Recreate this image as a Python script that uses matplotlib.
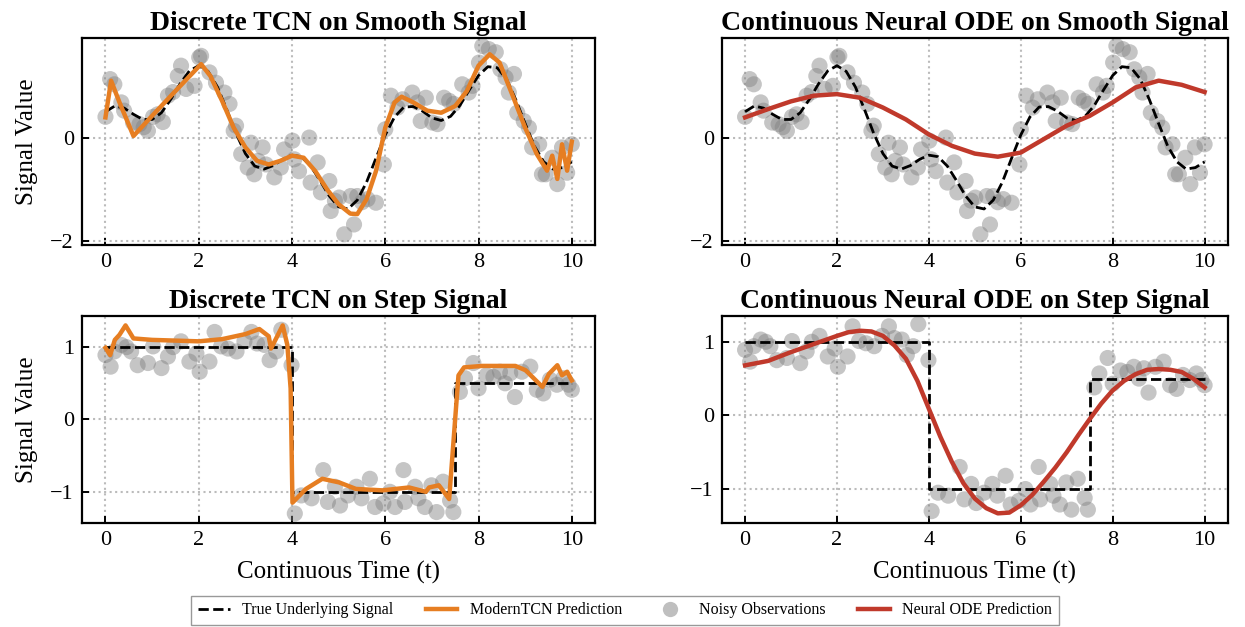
import matplotlib
matplotlib.use("Agg")
import matplotlib.pyplot as plt
from matplotlib.lines import Line2D

plt.rcParams['font.family'] = ['Liberation Serif', 'DejaVu Serif']
plt.rcParams['mathtext.fontset'] = 'stix'

# --- smooth signal (true curve) ---
t_true = [0.0, 0.2, 0.4, 0.6, 0.8, 1.0, 1.2, 1.4, 1.6, 1.8, 2.0, 2.2, 2.4, 2.6, 2.8,
          3.0, 3.2, 3.4, 3.6, 3.8, 4.0, 4.2, 4.4, 4.6, 4.8, 5.0, 5.2, 5.4, 5.6, 5.8,
          6.0, 6.2, 6.4, 6.6, 6.8, 7.0, 7.2, 7.4, 7.6, 7.8, 8.0, 8.2, 8.4, 8.6, 8.8,
          9.0, 9.2, 9.4, 9.6, 9.8, 10.0]
smooth_true = [0.50, 0.61, 0.57, 0.45, 0.35, 0.35, 0.48, 0.74, 1.04, 1.29, 1.39, 1.28, 0.98,
               0.54, 0.08, -0.31, -0.55, -0.61, -0.54, -0.42, -0.34, -0.37, -0.55, -0.83,
               -1.13, -1.34, -1.38, -1.21, -0.86, -0.40, 0.05, 0.40, 0.59, 0.60, 0.51, 0.38,
               0.33, 0.41, 0.62, 0.92, 1.20, 1.37, 1.35, 1.13, 0.73, 0.27, -0.17, -0.47,
               -0.61, -0.58, -0.47]

# --- smooth signal noisy observations ---
t_obs_smooth = [0.00, 0.10, 0.19, 0.34, 0.40, 0.59, 0.73, 0.82, 0.91, 1.02, 1.12, 1.23, 1.34,
                1.45, 1.55, 1.62, 1.73, 1.91, 2.01, 2.05, 2.23, 2.37, 2.55, 2.66, 2.75, 2.80,
                2.91, 3.05, 3.12, 3.19, 3.27, 3.37, 3.44, 3.62, 3.76, 3.83, 4.01, 4.05, 4.15,
                4.37, 4.40, 4.55, 4.62, 4.80, 4.83, 4.92, 5.01, 5.12, 5.26, 5.33, 5.40, 5.50,
                5.62, 5.80, 5.97, 6.00, 6.12, 6.26, 6.37, 6.58, 6.69, 6.76, 6.87, 7.01, 7.12,
                7.26, 7.37, 7.47, 7.65, 7.79, 7.87, 8.01, 8.08, 8.22, 8.37, 8.47, 8.58, 8.65,
                8.76, 8.83, 8.97, 9.08, 9.15, 9.30, 9.36, 9.44, 9.58, 9.69, 9.79, 9.90, 10.00]
y_obs_smooth = [0.40, 1.13, 1.03, 0.68, 0.52, 0.29, 0.26, 0.20, 0.13, 0.40, 0.45, 0.30, 0.81,
                0.88, 1.19, 1.39, 0.94, 1.00, 1.55, 1.58, 1.26, 1.06, 0.87, 0.65, 0.13, 0.23,
                -0.32, -0.58, -0.10, -0.71, -0.45, -0.19, -0.52, -0.77, -0.58, -0.23, -0.06,
                -0.42, -0.65, 0.00, -0.87, -0.48, -1.06, -0.84, -1.42, -1.22, -1.16, -1.87,
                -1.13, -1.68, -1.13, -1.25, -1.19, -1.26, -0.52, 0.16, 0.81, 0.58, 0.74, 0.87,
                0.68, 0.32, 0.77, 0.29, 0.26, 0.77, 0.71, 0.65, 1.03, 0.87, 1.00, 1.45, 1.77,
                1.71, 1.65, 1.32, 1.16, 0.87, 1.23, 0.48, 0.32, 0.19, -0.19, -0.13, -0.71,
                -0.71, -0.39, -0.90, -0.19, -0.68, -0.13]

# --- TCN prediction on smooth signal ---
t_tcn_smooth = [0.0, 0.12, 0.3, 0.6, 1.0, 1.5, 2.05, 2.25, 2.5, 2.75, 3.0, 3.25, 3.5, 3.75,
                4.0, 4.25, 4.5, 4.75, 5.0, 5.25, 5.4, 5.6, 5.8, 6.0, 6.2, 6.35, 6.6, 6.9,
                7.2, 7.5, 7.75, 8.0, 8.24, 8.45, 8.75, 9.0, 9.25, 9.47, 9.58, 9.69, 9.79,
                9.90, 10.0]
y_tcn_smooth = [0.39, 1.10, 0.68, 0.03, 0.42, 0.90, 1.42, 1.19, 0.71, 0.19, -0.19, -0.45,
                -0.52, -0.45, -0.35, -0.39, -0.65, -1.00, -1.29, -1.47, -1.48, -1.19, -0.65,
                0.19, 0.68, 0.79, 0.68, 0.52, 0.48, 0.61, 0.90, 1.39, 1.61, 1.45, 0.77, 0.19,
                -0.32, -0.64, -0.35, -0.80, -0.13, -0.64, -0.08]

# --- ODE prediction on smooth signal ---
t_ode_smooth = [0.0, 0.5, 1.0, 1.5, 2.0, 2.5, 3.0, 3.5, 4.0, 4.5, 5.0, 5.5, 6.0, 6.5, 7.0,
                7.5, 8.0, 8.5, 9.0, 9.5, 10.0]
y_ode_smooth = [0.39, 0.55, 0.70, 0.81, 0.84, 0.77, 0.58, 0.35, 0.06, -0.16, -0.31, -0.37,
                -0.29, -0.03, 0.23, 0.42, 0.68, 0.97, 1.10, 1.02, 0.88]

# --- step signal (true) ---
t_step = [0.0, 4.0, 4.0, 7.5, 7.5, 10.0]
step_true = [1.0, 1.0, -1.0, -1.0, 0.5, 0.5]

# --- step signal noisy observations ---
t_obs_step = [0.00, 0.11, 0.19, 0.34, 0.45, 0.55, 0.69, 0.91, 1.02, 1.20, 1.34, 1.45, 1.62,
              1.80, 1.95, 2.02, 2.23, 2.34, 2.48, 2.63, 2.81, 2.98, 3.13, 3.25, 3.41, 3.52,
              3.66, 3.77, 3.99, 4.06, 4.20, 4.42, 4.67, 4.77, 4.92, 5.03, 5.20, 5.38, 5.49,
              5.67, 5.78, 5.96, 6.10, 6.21, 6.39, 6.42, 6.64, 6.71, 6.85, 6.99, 7.10, 7.24,
              7.39, 7.46, 7.60, 7.71, 7.89, 8.00, 8.17, 8.32, 8.46, 8.57, 8.68, 8.78, 8.93,
              9.11, 9.25, 9.39, 9.53, 9.68, 9.82, 9.93, 10.00]
y_obs_step = [0.89, 0.73, 0.94, 1.03, 1.00, 0.94, 0.75, 0.78, 1.01, 0.71, 0.87, 1.00, 1.08,
              0.80, 0.91, 0.66, 0.80, 1.21, 1.01, 0.98, 0.94, 1.08, 1.21, 1.05, 1.03, 0.82,
              0.94, 1.24, 0.75, -1.30, -1.05, -1.09, -0.70, -1.14, -0.93, -1.19, -1.05, -0.93,
              -1.09, -0.82, -1.21, -1.16, -1.00, -1.21, -0.70, -1.14, -0.93, -1.09, -1.21,
              -0.91, -1.28, -0.86, -1.12, -1.28, 0.38, 0.57, 0.78, 0.43, 0.61, 0.59, 0.66,
              0.50, 0.64, 0.31, 0.66, 0.73, 0.41, 0.36, 0.55, 0.48, 0.57, 0.48, 0.41]

# --- TCN prediction on step signal ---
t_tcn_step = [0.0, 0.1, 0.2, 0.3, 0.43, 0.6, 1.0, 2.0, 2.5, 3.0, 3.3, 3.5, 3.55, 3.8, 3.9,
              3.97, 4.01, 4.3, 4.65, 5.01, 5.37, 5.94, 6.51, 6.87, 6.94, 7.15, 7.37, 7.51,
              7.57, 7.69, 8.08, 8.79, 9.01, 9.37, 9.51, 9.69, 9.79, 9.90, 10.0]
y_tcn_step = [0.99, 0.89, 1.10, 1.17, 1.30, 1.12, 1.10, 1.08, 1.11, 1.18, 1.25, 1.15, 0.98,
              1.30, 1.03, 0.43, -1.15, -0.96, -0.82, -0.87, -0.96, -0.98, -0.94, -1.00,
              -0.94, -0.91, -1.10, 0.10, 0.61, 0.72, 0.74, 0.74, 0.68, 0.45, 0.63, 0.75,
              0.61, 0.66, 0.54]

# --- ODE prediction on step signal ---
t_ode_step = [0.0, 0.5, 1.0, 1.5, 2.0, 2.25, 2.5, 2.75, 3.0, 3.25, 3.5, 3.75, 4.0, 4.25, 4.5,
              4.75, 5.0, 5.25, 5.5, 5.75, 6.0, 6.25, 6.5, 6.75, 7.0, 7.25, 7.5, 7.75, 8.0,
              8.25, 8.5, 8.75, 9.0, 9.25, 9.5, 9.75, 10.0]
y_ode_step = [0.68, 0.74, 0.86, 0.97, 1.08, 1.13, 1.15, 1.14, 1.08, 0.95, 0.77, 0.47, 0.09,
              -0.29, -0.63, -0.92, -1.13, -1.26, -1.33, -1.32, -1.22, -1.08, -0.90, -0.71,
              -0.50, -0.27, -0.05, 0.16, 0.34, 0.47, 0.56, 0.62, 0.63, 0.62, 0.59, 0.50, 0.38]

orange = '#E67E22'
red = '#C0392B'

fig = plt.figure(figsize=(12.45, 6.27), dpi=100)
ax_tl = fig.add_axes([0.066, 0.609, 0.412, 0.330])
ax_tr = fig.add_axes([0.580, 0.609, 0.406, 0.330])
ax_bl = fig.add_axes([0.066, 0.166, 0.412, 0.330])
ax_br = fig.add_axes([0.580, 0.166, 0.406, 0.330])

panels = [
    (ax_tl, "Discrete TCN on Smooth Signal", t_true, smooth_true, t_obs_smooth, y_obs_smooth,
     t_tcn_smooth, y_tcn_smooth, orange, (-2.08, 1.92), [-2, 0]),
    (ax_tr, "Continuous Neural ODE on Smooth Signal", t_true, smooth_true, t_obs_smooth,
     y_obs_smooth, t_ode_smooth, y_ode_smooth, red, (-2.08, 1.92), [-2, 0]),
    (ax_bl, "Discrete TCN on Step Signal", t_step, step_true, t_obs_step, y_obs_step,
     t_tcn_step, y_tcn_step, orange, (-1.43, 1.43), [-1, 0, 1]),
    (ax_br, "Continuous Neural ODE on Step Signal", t_step, step_true, t_obs_step, y_obs_step,
     t_ode_step, y_ode_step, red, (-1.46, 1.35), [-1, 0, 1]),
]

for ax, title, tt, yt, to, yo, tp, yp, col, ylim, yticks in panels:
    ax.scatter(to, yo, s=135, color='gray', alpha=0.45, edgecolors='none', zorder=2)
    ax.plot(tt, yt, color='black', linestyle='--', linewidth=2.0, zorder=3)
    ax.plot(tp, yp, color=col, linewidth=3.2, zorder=4)
    ax.set_title(title, fontsize=20, fontweight='bold', pad=6)
    ax.set_xlim(-0.5, 10.5)
    ax.set_ylim(*ylim)
    ax.set_xticks([0, 2, 4, 6, 8, 10])
    ax.set_yticks(yticks)
    ax.grid(True, linestyle=':', linewidth=1.5, color='#bbbbbb')
    ax.tick_params(direction='in', labelsize=16, width=1.4, length=5, pad=6)
    for sp in ax.spines.values():
        sp.set_linewidth(1.6)

ax_tl.set_ylabel("Signal Value", fontsize=18, labelpad=9)
ax_bl.set_ylabel("Signal Value", fontsize=18, labelpad=9)
ax_bl.set_xlabel("Continuous Time (t)", fontsize=18, labelpad=8)
ax_br.set_xlabel("Continuous Time (t)", fontsize=18, labelpad=8)

handles = [
    Line2D([0], [0], color='black', linestyle='--', linewidth=2.0),
    Line2D([0], [0], color=orange, linewidth=3.2),
    Line2D([0], [0], marker='o', color='none', markerfacecolor='gray', markeredgecolor='none',
           alpha=0.5, markersize=11),
    Line2D([0], [0], color=red, linewidth=3.2),
]
labels = ["True Underlying Signal", "ModernTCN Prediction", "Noisy Observations",
          "Neural ODE Prediction"]
fig.legend(handles, labels, loc='lower center', bbox_to_anchor=(0.502, -0.009), ncol=4,
           fontsize=11.5, frameon=True, edgecolor='gray', fancybox=False)

plt.savefig("out.png", dpi=100)
